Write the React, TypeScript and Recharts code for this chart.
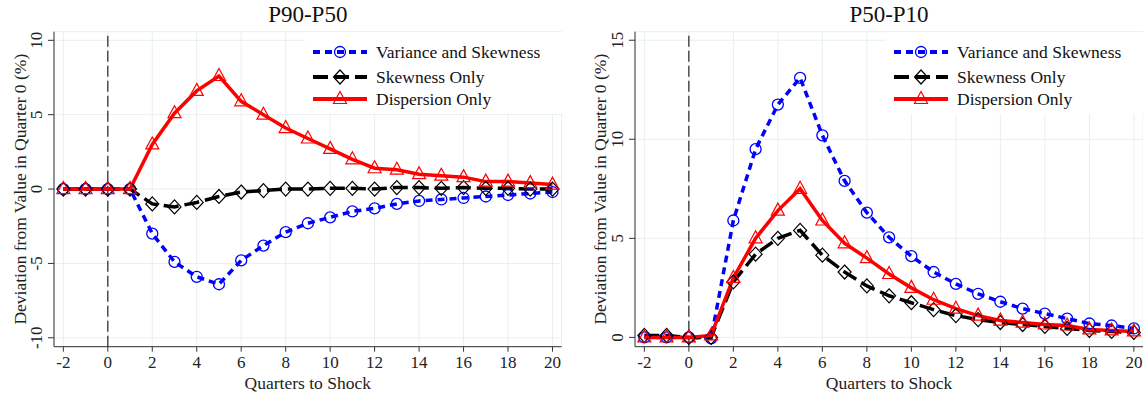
import React from "react";
import {
  LineChart,
  Line,
  XAxis,
  YAxis,
  CartesianGrid,
  ReferenceLine,
  Legend,
} from "recharts";

const FONT = "Liberation Serif, Tinos, Times New Roman, serif";

// quarters relative to the shock
const quarters = [-2, -1, 0, 1, 2, 3, 4, 5, 6, 7, 8, 9, 10, 11, 12, 13, 14, 15, 16, 17, 18, 19, 20];
const xTicks = [-2, 0, 2, 4, 6, 8, 10, 12, 14, 16, 18, 20];

// P90-P50 panel
const p9050Variance = [0, 0, 0, 0, -3.0, -4.9, -5.9, -6.4, -4.8, -3.8, -2.9, -2.3, -1.9, -1.5, -1.3, -1.0, -0.8, -0.7, -0.6, -0.5, -0.4, -0.3, -0.2];
const p9050Skew = [0, 0, 0, 0, -1.0, -1.2, -0.9, -0.5, -0.2, -0.1, 0, 0, 0.05, 0.05, 0, 0.1, 0.1, 0.05, 0.1, 0.05, 0.05, 0, 0];
const p9050Disp = [0, 0, 0, 0, 3.0, 5.1, 6.6, 7.6, 5.9, 5.0, 4.1, 3.4, 2.7, 2.0, 1.4, 1.3, 1.0, 0.9, 0.8, 0.5, 0.5, 0.4, 0.3];
const p9050Ticks = [-10, -5, 0, 5, 10];

// P50-P10 panel
const p5010Variance = [0, 0, 0, -0.05, 5.9, 9.5, 11.75, 13.1, 10.2, 7.9, 6.3, 5.05, 4.1, 3.3, 2.7, 2.2, 1.8, 1.45, 1.2, 0.95, 0.7, 0.6, 0.45];
const p5010Skew = [0.1, 0.1, 0, 0, 2.8, 4.2, 5.0, 5.4, 4.15, 3.3, 2.6, 2.1, 1.75, 1.4, 1.1, 0.9, 0.75, 0.65, 0.55, 0.45, 0.35, 0.3, 0.25];
const p5010Disp = [0, 0, 0, 0.1, 3.0, 5.0, 6.4, 7.5, 5.9, 4.75, 4.0, 3.2, 2.5, 1.9, 1.45, 1.1, 0.85, 0.75, 0.65, 0.6, 0.4, 0.35, 0.3];
const p5010Ticks = [0, 5, 10, 15];

const seriesNames = ["Variance and Skewness", "Skewness Only", "Dispersion Only"];

const buildRows = (v: number[], s: number[], d: number[]) =>
  quarters.map((q, i) => ({ q, variance: v[i], skew: s[i], disp: d[i] }));

const BLUE = "#0000ff";
const RED = "#ff0000";
const BLACK = "#000000";

const serif = { fontFamily: FONT };

const circleShape = (cx: number, cy: number, key?: string) => (
  <circle key={key} cx={cx} cy={cy} r={5.5} fill="none" stroke={BLUE} strokeWidth={1.3} />
);
const diamondShape = (cx: number, cy: number, key?: string) => (
  <path
    key={key}
    d={`M${cx},${cy - 7}L${cx + 6.5},${cy}L${cx},${cy + 7}L${cx - 6.5},${cy}Z`}
    fill="none"
    stroke={BLACK}
    strokeWidth={1.2}
  />
);
const triangleShape = (cx: number, cy: number, key?: string) => (
  <path
    key={key}
    d={`M${cx},${cy - 7.5}L${cx + 6.5},${cy + 4.5}L${cx - 6.5},${cy + 4.5}Z`}
    fill="none"
    stroke={RED}
    strokeWidth={1.2}
  />
);

const circleDot = (p: any) => circleShape(p.cx, p.cy, `c-${p.index}`);
const diamondDot = (p: any) => diamondShape(p.cx, p.cy, `d-${p.index}`);
const triangleDot = (p: any) => triangleShape(p.cx, p.cy, `t-${p.index}`);

const XTick = (props: any) => {
  const { x, y, payload } = props;
  return (
    <text x={x} y={y + 12} textAnchor="middle" style={serif} fontSize={17} fill="#222">
      {payload.value}
    </text>
  );
};

const YTick = (props: any) => {
  const { x, y, payload } = props;
  const tx = x - 4;
  return (
    <text
      x={tx}
      y={y}
      transform={`rotate(-90 ${tx} ${y})`}
      textAnchor="middle"
      style={serif}
      fontSize={17}
      fill="#222"
    >
      {payload.value}
    </text>
  );
};

const LegendBox = () => {
  const rows = [20, 45, 67];
  const styles = [
    { color: BLUE, dash: "7 5", shape: circleShape },
    { color: BLACK, dash: "15 6", shape: diamondShape },
    { color: RED, dash: undefined, shape: triangleShape },
  ];
  return (
    <svg width={257} height={82} style={{ display: "block" }}>
      {seriesNames.map((name, i) => (
        <g key={name}>
          <line
            x1={8}
            x2={62}
            y1={rows[i]}
            y2={rows[i]}
            stroke={styles[i].color}
            strokeWidth={4}
            strokeDasharray={styles[i].dash}
          />
          {styles[i].shape(35, rows[i])}
          <text x={71} y={rows[i] + 6} style={serif} fontSize={17.5} fill="#111">
            {name}
          </text>
        </g>
      ))}
    </svg>
  );
};

interface PanelProps {
  title: string;
  rows: { q: number; variance: number; skew: number; disp: number }[];
  left: number;
  width: number;
  marginRight: number;
  yAxisWidth: number;
  yDomain: [number, number];
  yTicks: number[];
  yTitleX: number;
}

function Panel({ title, rows, left, width, marginRight, yAxisWidth, yDomain, yTicks, yTitleX }: PanelProps) {
  const plotRight = width - marginRight;
  const top = 31.7;
  const bottom = 346.7;
  return (
    <div style={{ position: "absolute", left, top: 0, width, height: 396, fontFamily: FONT }}>
      <div
        style={{
          position: "absolute",
          left: yAxisWidth,
          width: plotRight - yAxisWidth,
          top: 2,
          textAlign: "center",
          fontSize: 23,
          lineHeight: "26px",
          color: "#111",
        }}
      >
        {title}
      </div>
      <LineChart
        width={width}
        height={396}
        data={rows}
        margin={{ top, right: marginRight, bottom: 0, left: 0 }}
        style={serif}
      >
        <CartesianGrid stroke="#e8eff1" strokeWidth={1} />
        <XAxis
          dataKey="q"
          type="number"
          domain={[-2.42, 20.41]}
          ticks={xTicks}
          allowDataOverflow
          height={396 - bottom}
          tickSize={5}
          tickMargin={4}
          interval={0}
          stroke="#333"
          tick={<XTick />}
          label={{
            content: (p: any) => (
              <text
                x={p.viewBox.x + p.viewBox.width / 2}
                y={389}
                textAnchor="middle"
                style={serif}
                fontSize={17.5}
                fill="#222"
              >
                Quarters to Shock
              </text>
            ),
          }}
        />
        <YAxis
          type="number"
          domain={yDomain}
          ticks={yTicks}
          allowDataOverflow
          width={yAxisWidth}
          tickSize={6}
          interval={0}
          stroke="#333"
          tick={<YTick />}
          label={{
            content: () => (
              <text
                x={yTitleX}
                y={(top + bottom) / 2}
                transform={`rotate(-90 ${yTitleX} ${(top + bottom) / 2})`}
                textAnchor="middle"
                style={serif}
                fontSize={17.5}
                fill="#222"
              >
                Deviation from Value in Quarter 0 (%)
              </text>
            ),
          }}
        />
        <ReferenceLine x={0} stroke="#333" strokeDasharray="11 4" strokeWidth={1.3} />
        <Line
          type="linear"
          dataKey="variance"
          name={seriesNames[0]}
          stroke={BLUE}
          strokeWidth={3.5}
          strokeDasharray="7 5"
          dot={circleDot}
          activeDot={false}
          isAnimationActive={false}
        />
        <Line
          type="linear"
          dataKey="skew"
          name={seriesNames[1]}
          stroke={BLACK}
          strokeWidth={3.5}
          strokeDasharray="15 6"
          dot={diamondDot}
          activeDot={false}
          isAnimationActive={false}
        />
        <Line
          type="linear"
          dataKey="disp"
          name={seriesNames[2]}
          stroke={RED}
          strokeWidth={3.5}
          dot={triangleDot}
          activeDot={false}
          isAnimationActive={false}
        />
        <Legend
          layout="horizontal"
          verticalAlign="middle"
          align="center"
          wrapperStyle={{
            left: plotRight - 257,
            top: 32,
            width: 257,
            height: 82,
            background: "#fff",
          }}
          content={() => <LegendBox />}
        />
      </LineChart>
    </div>
  );
}

export default function App() {
  return (
    <div
      style={{
        position: "absolute",
        left: 0,
        top: 0,
        width: 1143,
        height: 396,
        background: "#fff",
        overflow: "hidden",
      }}
    >
      <Panel
        title="P90-P50"
        rows={buildRows(p9050Variance, p9050Skew, p9050Disp)}
        left={0}
        width={572}
        marginRight={10.4}
        yAxisWidth={54}
        yDomain={[-10.6, 10.58]}
        yTicks={p9050Ticks}
        yTitleX={26}
      />
      <Panel
        title="P50-P10"
        rows={buildRows(p5010Variance, p5010Skew, p5010Disp)}
        left={573}
        width={570}
        marginRight={0}
        yAxisWidth={62}
        yDomain={[-0.47, 15.43]}
        yTicks={p5010Ticks}
        yTitleX={33.5}
      />
    </div>
  );
}
